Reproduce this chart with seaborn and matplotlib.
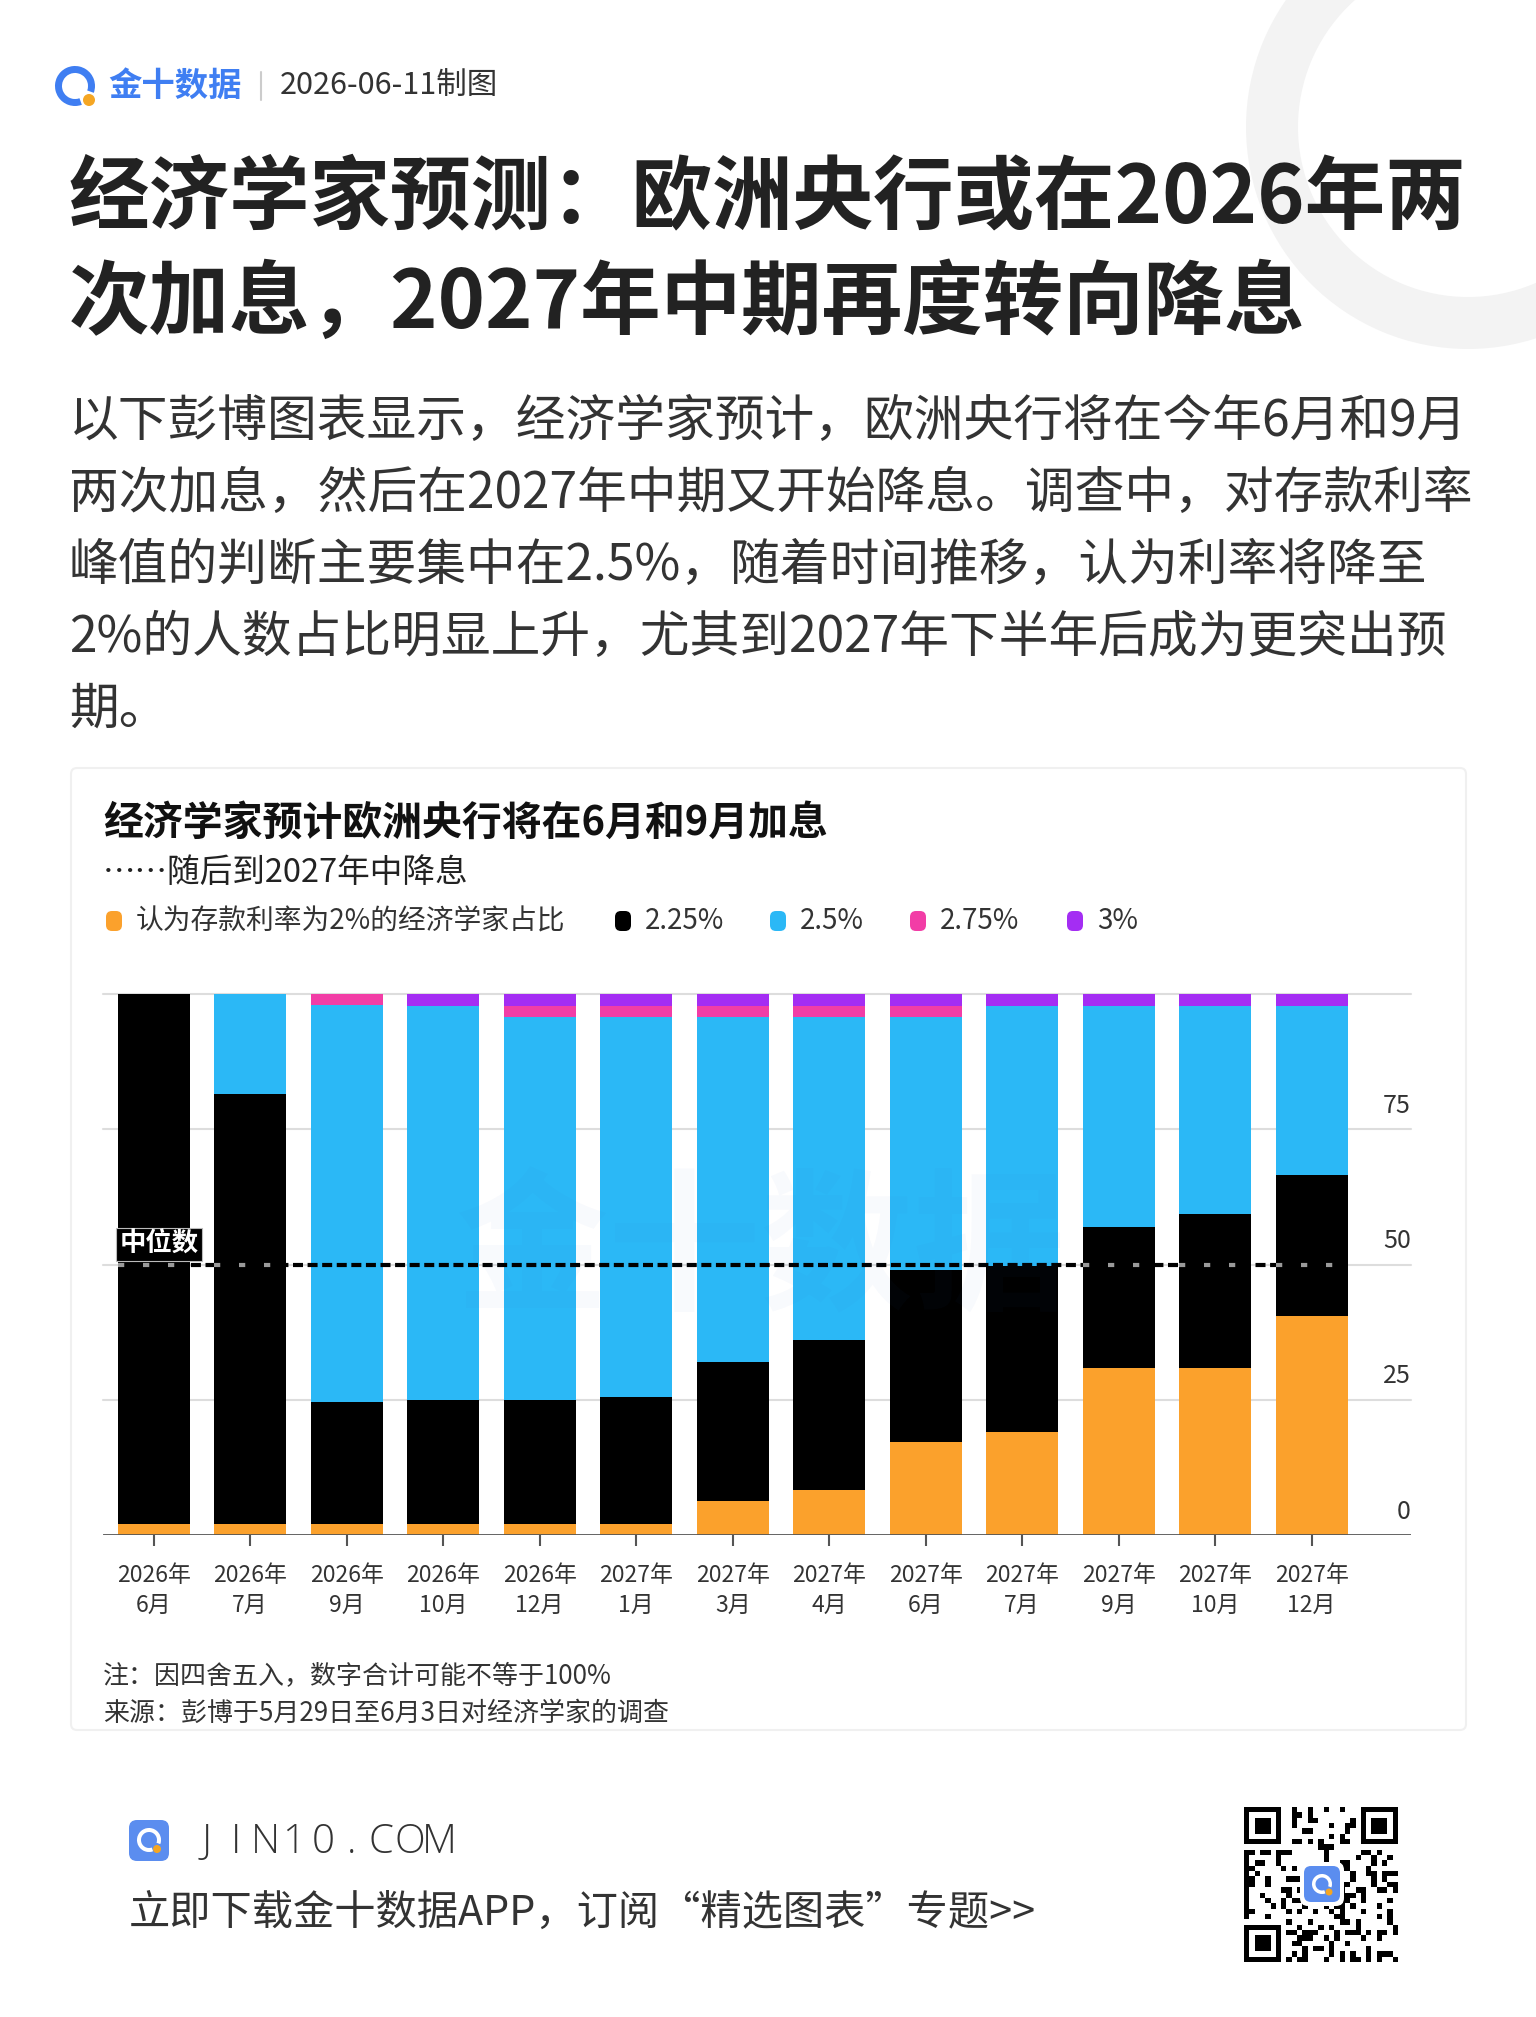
import numpy as np
import pandas as pd
import seaborn as sns
import matplotlib.pyplot as plt
from matplotlib.patches import FancyBboxPatch, Annulus, Wedge, Circle

# ---- data ----
years = ['2026年'] * 5 + ['2027年'] * 8
months = ['6月', '7月', '9月', '10月', '12月', '1月', '3月', '4月', '6月', '7月', '9月', '10月', '12月']
rate_200 = [2, 2, 2, 2, 2, 2, 6.3, 8.4, 17.1, 19, 30.9, 30.9, 40.4]
rate_225 = [98, 79.6, 22.5, 22.9, 22.9, 23.6, 25.6, 27.6, 31.8, 30.8, 26.1, 28.5, 26.2]
rate_250 = [0, 18.4, 73.4, 72.9, 70.9, 70.1, 63.8, 59.8, 46.9, 47.9, 40.7, 38.3, 31.1]
rate_275 = [0, 0, 2.1, 0, 2, 2.1, 2.1, 2, 2, 0, 0, 0, 0]
rate_300 = [0, 0, 0, 2.2, 2.2, 2.2, 2.2, 2.2, 2.2, 2.3, 2.3, 2.3, 2.3]

legend_labels = ['认为存款利率为2%的经济学家占比', '2.25%', '2.5%', '2.75%', '3%']
colors = ['#FBA12C', '#000000', '#2BB8F6', '#F23DA6', '#A42DF3']
y_ticks = [0, 25, 50, 75]
median_level = 50

W, H = 1536, 2017

sns.set_style('white')
plt.rcParams['font.family'] = ['Noto Sans CJK SC', 'DejaVu Sans']

fig = plt.figure(figsize=(W / 100, H / 100), dpi=100)
fig.patch.set_facecolor('white')

# background layer in pixel coordinates
bg = fig.add_axes([0, 0, 1, 1], zorder=-1)
bg.set_xlim(0, W)
bg.set_ylim(H, 0)
bg.axis('off')

# decorative ring at top right
bg.add_patch(Annulus((1468, 127), r=222, width=52, color='#f3f3f3', lw=0))

# header logo
bg.add_patch(Wedge((75, 86), 20, 70, 380, width=7, color='#3f7ef2', lw=0))
bg.add_patch(Circle((89, 100), 6, color='#f5a623', lw=0))
bg.text(108, 86, '金十数据', fontsize=24, fontweight='bold', color='#3f7ef2', va='center')
bg.plot([261, 261], [72, 100], color='#cccccc', lw=1.5)
bg.text(280, 86, '2026-06-11制图', fontsize=22, color='#333333', va='center')

# headline
bg.text(69, 199, '经济学家预测：欧洲央行或在2026年两', fontsize=58, fontweight='heavy',
        color='#222222', va='center')
bg.text(69, 304, '次加息，2027年中期再度转向降息', fontsize=58, fontweight='heavy',
        color='#222222', va='center')

para = ['以下彭博图表显示，经济学家预计，欧洲央行将在今年6月和9月',
        '两次加息，然后在2027年中期又开始降息。调查中，对存款利率',
        '峰值的判断主要集中在2.5%，随着时间推移，认为利率将降至',
        '2%的人数占比明显上升，尤其到2027年下半年后成为更突出预',
        '期。']
for i, line in enumerate(para):
    bg.text(69, 422 + i * 72, line, fontsize=35.8, color='#333333', va='center')

# chart card
bg.add_patch(FancyBboxPatch((71, 768), 1395, 962, boxstyle='round,pad=0,rounding_size=6',
                            fc='white', ec='#f0f0f0', lw=1.5))
bg.text(103, 823, '经济学家预计欧洲央行将在6月和9月加息', fontsize=28.7, fontweight='bold',
        color='#111111', va='center')
bg.text(103, 873, '……随后到2027年中降息', fontsize=23.5, color='#222222', va='center')

# legend
leg_x = [114, 623, 778, 918, 1075]
for x, lab, c in zip(leg_x, legend_labels, colors):
    bg.add_patch(FancyBboxPatch((x - 8, 911), 16, 20, boxstyle='round,pad=0,rounding_size=6',
                                fc=c, ec='none'))
    bg.text(x + 22, 921, lab, fontsize=20, color='#333333', va='center')

# notes
bg.text(103, 1677, '注：因四舍五入，数字合计可能不等于100%', fontsize=18.7, color='#333333', va='center')
bg.text(103, 1713, '来源：彭博于5月29日至6月3日对经济学家的调查', fontsize=18.7, color='#333333', va='center')

# footer
bg.add_patch(FancyBboxPatch((129, 1820), 40, 41, boxstyle='round,pad=0,rounding_size=8',
                            fc='#5b8def', ec='none'))
bg.add_patch(Wedge((149, 1840), 12, 70, 380, width=4, color='white', lw=0))
bg.add_patch(Circle((157, 1849), 4, color='#f5a623', lw=0))
for i, ch in enumerate('JIN10.COM'):
    bg.text(207 + i * 29, 1842, ch, fontsize=29, color='#333333', va='center', ha='center',
            family='Open Sans', fontweight='light')
bg.text(129, 1913, '立即下载金十数据APP，订阅“精选图表”专题>>', fontsize=29.7,
        color='#333333', va='center')

# QR-like block
n = 29
ii, jj = np.meshgrid(np.arange(n), np.arange(n), indexing='ij')
qr = (((ii * 3 + jj * 5) ^ (ii * jj)) % 3 == 0).astype(float)
for (r0, c0) in [(0, 0), (0, n - 7), (n - 7, 0)]:
    qr[max(r0 - 1, 0):r0 + 8, max(c0 - 1, 0):c0 + 8] = 0
    qr[r0:r0 + 7, c0:c0 + 7] = 1
    qr[r0 + 1:r0 + 6, c0 + 1:c0 + 6] = 0
    qr[r0 + 2:r0 + 5, c0 + 2:c0 + 5] = 1
bg.imshow(qr, cmap='gray_r', extent=(1244, 1398, 1962, 1807), interpolation='nearest', vmin=0, vmax=1)
bg.add_patch(FancyBboxPatch((1300, 1862), 44, 44, boxstyle='round,pad=0,rounding_size=8',
                            fc='white', ec='none'))
bg.add_patch(FancyBboxPatch((1304, 1866), 36, 36, boxstyle='round,pad=0,rounding_size=7',
                            fc='#5b8def', ec='none'))
bg.add_patch(Wedge((1322, 1884), 10, 70, 380, width=3.5, color='white', lw=0))
bg.add_patch(Circle((1329, 1892), 3.5, color='#f5a623', lw=0))
bg.set_aspect('auto')
bg.set_xlim(0, W)
bg.set_ylim(H, 0)

# ---- main chart ----
ax = fig.add_axes([103 / W, 1 - 1535 / H, 1308 / W, 541 / H])
ax.patch.set_alpha(0)

cats = [f'{y}\n{m}' for y, m in zip(years, months)]
series = [rate_200, rate_225, rate_250, rate_275, rate_300]
cum = np.cumsum(np.array(series), axis=0)
df = pd.DataFrame({'cat': cats})
for k in range(len(series)):
    df[f'c{k}'] = cum[k]

for g in [25, 50, 75, 100]:
    ax.axhline(g, color='#dddddd', lw=1.5, zorder=0, clip_on=False)

bar_w = 0.746
for k in range(len(series) - 1, -1, -1):
    sns.barplot(data=df, x='cat', y=f'c{k}', color=colors[k], width=bar_w, saturation=1,
                errorbar=None, linewidth=0, ax=ax, zorder=2)

ax.set_xlim(-0.525, 13.03)
ax.set_ylim(0, 100)
ax.set_xlabel('')
ax.set_ylabel('')
ax.set_yticks([])
sns.despine(ax=ax, left=True, bottom=True)
ax.axhline(0, color='#555555', lw=2, zorder=3)
ax.tick_params(axis='x', length=8, width=1.5, color='#555555', labelsize=16.5,
               labelcolor='#333333', pad=13, direction='out', bottom=True)
for t in ax.get_xticklabels():
    t.set_linespacing(1.4)

for v in y_ticks:
    ax.text(13.03, v + 1.9, str(v), ha='right', va='bottom', fontsize=18, color='#333333')

# median line
x0, x1 = -bar_w / 2, len(cats) - 1 + bar_w / 2
ax.plot([x0, x1], [median_level, median_level], color='black', lw=3,
        dashes=(2.4, 1.1), zorder=4, solid_capstyle='butt')
for i, (lo, hi) in enumerate(zip(cum[0], cum[1])):
    if lo < median_level < hi:
        ax.plot([i - bar_w / 2, i + bar_w / 2], [median_level, median_level], color='#9a9a9a',
                lw=3, dashes=(1.5, 4.5), zorder=5, dash_capstyle='butt')
ax.text(x0 + 0.02, median_level + 1.2, '中位数', ha='left', va='bottom', fontsize=19,
        fontweight='bold', color='white', zorder=6,
        bbox=dict(boxstyle='square,pad=0.12', fc='black', ec='#bbbbbb', lw=0.8))

# faint watermark
ax.text(6.3, 52, '金十数据', ha='center', va='center', fontsize=110, fontweight='bold',
        color='#3060c0', alpha=0.03, zorder=7)

plt.savefig('out.png', dpi=100)
plt.close()
